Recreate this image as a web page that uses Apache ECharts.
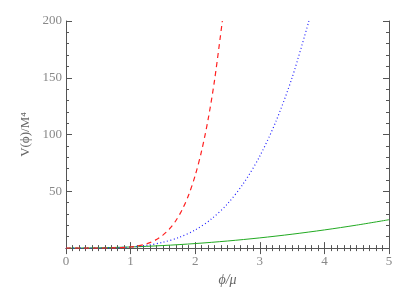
<!DOCTYPE html>
<html><head><meta charset="utf-8">
<script src="https://cdn.jsdelivr.net/npm/echarts@6/dist/echarts.min.js"></script>
<style>html,body{margin:0;padding:0;background:#fff}#c{width:409px;height:292px}</style>
</head><body><div id="c"></div>
<script>
// phi/mu sample positions and V/M^4 values
const redX   = [0, 0.5, 0.8, 1.0, 1.1, 1.2, 1.3, 1.4, 1.5, 1.6, 1.7, 1.8, 1.9, 2.0, 2.1, 2.2, 2.3, 2.42];
const redV   = [0, 0.02, 0.26, 1.0, 1.8, 3.0, 4.8, 7.5, 11.4, 16.8, 24.1, 34.0, 47.0, 64.0, 85.8, 113.4, 148.0, 200];
const blueX  = [0, 0.5, 0.8, 1.0, 1.25, 1.5, 1.75, 2.0, 2.25, 2.5, 2.75, 3.0, 3.25, 3.5, 3.76];
const blueV  = [0, 0.06, 0.41, 1.0, 2.4, 5.1, 9.4, 16.0, 25.6, 39.0, 57.2, 81.0, 111.6, 150.1, 200];
const greenX = [0, 0.5, 1.0, 1.5, 2.0, 2.5, 3.0, 3.5, 4.0, 4.5, 5.0];
const greenV = [0, 0.25, 1.0, 2.25, 4.0, 6.25, 9.0, 12.25, 16.0, 20.25, 25.0];
const xTicks = [0, 1, 2, 3, 4, 5];
const yTicks = [50, 100, 150, 200];

const zip = (a, b) => a.map((v, i) => [v, b[i]]);
const axisCol = '#555';
const labCol = '#888';
const fnt = 'Liberation Serif';

const chart = echarts.init(document.getElementById('c'));
const xBase = {
  type: 'value', min: 0, max: 5, interval: 1,
  axisLine: {show: true, lineStyle: {color: axisCol, width: 1}},
  axisTick: {show: true, inside: true, length: 6, lineStyle: {color: axisCol}},
  minorTick: {show: true, splitNumber: 10, length: 3, lineStyle: {color: axisCol}},
  splitLine: {show: false}
};
const yBase = {
  type: 'value', min: 0, max: 200, interval: 50,
  axisLine: {show: true, onZero: false, lineStyle: {color: axisCol, width: 1}},
  axisTick: {show: true, inside: true, length: 6, lineStyle: {color: axisCol}},
  minorTick: {show: true, splitNumber: 5, length: 3, lineStyle: {color: axisCol}},
  splitLine: {show: false}
};
chart.setOption({
  animation: false,
  backgroundColor: '#fff',
  grid: {left: 66, right: 20, top: 21, bottom: 42},
  xAxis: [
    Object.assign({}, xBase, {
      position: 'bottom',
      axisLabel: {color: labCol, fontFamily: fnt, fontSize: 13, margin: 7,
        formatter: v => xTicks.includes(v) ? String(v) : ''},
      name: 'ϕ/μ', nameLocation: 'middle', nameGap: 21,
      nameTextStyle: {color: '#666', fontFamily: fnt, fontSize: 14, fontStyle: 'italic'}
    }),
    Object.assign({}, xBase, {position: 'top', axisLabel: {show: false}})
  ],
  yAxis: [
    Object.assign({}, yBase, {
      position: 'left',
      axisLabel: {color: labCol, fontFamily: fnt, fontSize: 13, margin: 4,
        formatter: v => yTicks.includes(v) ? String(v) : ''},
      name: 'V(ϕ)/M⁴', nameLocation: 'middle', nameGap: 33, nameRotate: 90,
      nameTextStyle: {color: '#666', fontFamily: fnt, fontSize: 13}
    }),
    Object.assign({}, yBase, {position: 'right', axisLabel: {show: false}})
  ],
  series: [
    {type: 'line', data: zip(greenX, greenV), smooth: 0.3, showSymbol: false, symbol: 'none',
     lineStyle: {color: '#22aa22', width: 1}},
    {type: 'line', data: zip(blueX, blueV), smooth: 0.3, showSymbol: false, symbol: 'none',
     lineStyle: {color: '#2222ff', width: 1.2, type: [1, 2.5]}},
    {type: 'line', data: zip(redX, redV), smooth: 0.3, showSymbol: false, symbol: 'none',
     lineStyle: {color: '#ff2020', width: 1.2, type: [5, 4]}}
  ]
});
</script></body></html>
